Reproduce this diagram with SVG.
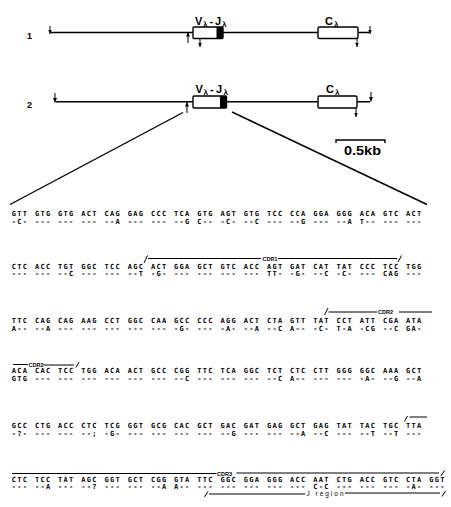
<svg xmlns="http://www.w3.org/2000/svg" width="451" height="507" viewBox="0 0 451 507">
<style>
.ln{stroke:#000;stroke-width:1.4;fill:none}
.thin{stroke:#000;stroke-width:1;fill:none}
.box{fill:#fff;stroke:#000;stroke-width:1.4}
.blk{fill:#000}
.lbl{font-family:"Liberation Sans",Arial,sans-serif;font-weight:bold;fill:#000}
.seq{font-family:"DejaVu Sans Mono","Liberation Mono",monospace;font-weight:bold;font-size:7px;letter-spacing:1.3px;fill:#000}
.cdr{font-family:"Liberation Sans",Arial,sans-serif;font-weight:bold;font-size:5.5px;fill:#000}
.jr{font-family:"Liberation Sans",Arial,sans-serif;font-size:6.5px;fill:#000}
</style>
<defs>
<marker id="ah" markerUnits="userSpaceOnUse" markerWidth="5" markerHeight="5" refX="4.5" refY="2.5" orient="auto">
<path d="M0,0.5 L4.5,2.5 L0,4.5 z" fill="#000"/>
</marker>
</defs>
<rect width="451" height="507" fill="#fff"/>

<g id="map1">
<text class="lbl" x="27" y="38.5" font-size="9">1</text>
<line class="ln" x1="51" y1="32.5" x2="369" y2="32.5"/>
<line class="thin" x1="50" y1="26" x2="50" y2="34" marker-end="url(#ah)"/>
<line class="thin" x1="370" y1="26" x2="370" y2="34" marker-end="url(#ah)"/>
<rect class="box" x="193" y="27" width="30" height="11.5" rx="1"/>
<rect class="blk" x="216.5" y="27" width="6.5" height="11.5"/>
<rect class="box" x="318" y="27" width="40" height="11.5" rx="1.5"/>
<line class="thin" x1="188" y1="43" x2="188" y2="32" marker-end="url(#ah)"/>
<line class="thin" x1="200" y1="38" x2="200" y2="47" marker-end="url(#ah)"/>
<line class="thin" x1="357" y1="38" x2="357" y2="47" marker-end="url(#ah)"/>
<text class="lbl" font-size="11" y="25"><tspan x="195">V</tspan><tspan x="203" y="27" font-size="8">λ</tspan><tspan x="209.5" y="25">-</tspan><tspan x="215">J</tspan><tspan x="222" y="27" font-size="8">λ</tspan></text>
<text class="lbl" font-size="11" y="25"><tspan x="325">C</tspan><tspan x="334" y="27" font-size="8">λ</tspan></text>
</g>

<g id="map2">
<text class="lbl" x="27" y="107.5" font-size="9">2</text>
<line class="ln" x1="56" y1="101.7" x2="370" y2="101.7"/>
<line class="thin" x1="55" y1="93" x2="55" y2="102.5" marker-end="url(#ah)"/>
<line class="thin" x1="371" y1="92" x2="371" y2="101.5" marker-end="url(#ah)"/>
<rect class="box" x="193" y="96" width="33.5" height="12" rx="1"/>
<rect class="blk" x="220" y="96" width="6.5" height="12"/>
<rect class="box" x="318" y="96" width="39" height="12" rx="1.5"/>
<line class="thin" x1="187" y1="113" x2="187" y2="102" marker-end="url(#ah)"/>
<line class="thin" x1="356" y1="108" x2="356" y2="117" marker-end="url(#ah)"/>
<text class="lbl" font-size="11" y="93"><tspan x="195.5">V</tspan><tspan x="203.5" y="95" font-size="8">λ</tspan><tspan x="210" y="93">-</tspan><tspan x="216">J</tspan><tspan x="223.5" y="95" font-size="8">λ</tspan></text>
<text class="lbl" font-size="11" y="93"><tspan x="326">C</tspan><tspan x="335" y="95" font-size="8">λ</tspan></text>
</g>

<g id="scale">
<path class="ln" d="M336,143 V140 H385 V143"/>
<text class="lbl" x="344" y="155" font-size="12" textLength="37" lengthAdjust="spacingAndGlyphs">0.5kb</text>
</g>

<g id="connectors">
<line class="ln" x1="183" y1="112.5" x2="10" y2="204.5"/>
<line class="ln" x1="232" y1="112" x2="427" y2="204.5"/>
</g>

<g id="sequence">
<text class="seq" y="215.5"><tspan x="11.7">GTT</tspan><tspan x="34.9">GTG</tspan><tspan x="58.1">GTG</tspan><tspan x="81.3">ACT</tspan><tspan x="104.5">CAG</tspan><tspan x="127.7">GAG</tspan><tspan x="150.9">CCC</tspan><tspan x="174.1">TCA</tspan><tspan x="197.3">GTG</tspan><tspan x="220.5">AGT</tspan><tspan x="243.7">GTG</tspan><tspan x="266.9">TCC</tspan><tspan x="290.1">CCA</tspan><tspan x="313.3">GGA</tspan><tspan x="336.5">GGG</tspan><tspan x="359.7">ACA</tspan><tspan x="382.9">GTC</tspan><tspan x="406.1">ACT</tspan></text>
<text class="seq" y="223.5"><tspan x="11.7">-C-</tspan><tspan x="34.9">---</tspan><tspan x="58.1">---</tspan><tspan x="81.3">---</tspan><tspan x="104.5">--A</tspan><tspan x="127.7">---</tspan><tspan x="150.9">---</tspan><tspan x="174.1">--G</tspan><tspan x="197.3">C--</tspan><tspan x="220.5">-C-</tspan><tspan x="243.7">--C</tspan><tspan x="266.9">---</tspan><tspan x="290.1">--G</tspan><tspan x="313.3">---</tspan><tspan x="336.5">--A</tspan><tspan x="359.7">T--</tspan><tspan x="382.9">---</tspan><tspan x="406.1">---</tspan></text>

<path class="thin" d="M144,263 L147.5,255.5 M148,258.5 H261 M278,258.5 H397 M398,262 L401.5,255.5"/>
<text class="cdr" x="262.5" y="260.5">CDR1</text>
<text class="seq" y="268.5"><tspan x="11.7">CTC</tspan><tspan x="34.9">ACC</tspan><tspan x="58.1">TGT</tspan><tspan x="81.3">GGC</tspan><tspan x="104.5">TCC</tspan><tspan x="127.7">AGC</tspan><tspan x="150.9">ACT</tspan><tspan x="174.1">GGA</tspan><tspan x="197.3">GCT</tspan><tspan x="220.5">GTC</tspan><tspan x="243.7">ACC</tspan><tspan x="266.9">AGT</tspan><tspan x="290.1">GAT</tspan><tspan x="313.3">CAT</tspan><tspan x="336.5">TAT</tspan><tspan x="359.7">CCC</tspan><tspan x="382.9">TCC</tspan><tspan x="406.1">TGG</tspan></text>
<text class="seq" y="276"><tspan x="11.7">---</tspan><tspan x="34.9">---</tspan><tspan x="58.1">--C</tspan><tspan x="81.3">---</tspan><tspan x="104.5">---</tspan><tspan x="127.7">--T</tspan><tspan x="150.9">-G-</tspan><tspan x="174.1">---</tspan><tspan x="197.3">---</tspan><tspan x="220.5">---</tspan><tspan x="243.7">---</tspan><tspan x="266.9">TT-</tspan><tspan x="290.1">-G-</tspan><tspan x="313.3">--C</tspan><tspan x="336.5">-C-</tspan><tspan x="359.7">---</tspan><tspan x="382.9">CAG</tspan><tspan x="406.1">---</tspan></text>

<path class="thin" d="M324.5,315 L328,308 M328.5,312 H377 M399,312 H432"/>
<text class="cdr" x="378" y="314">CDR2</text>
<text class="seq" y="323"><tspan x="11.7">TTC</tspan><tspan x="34.9">CAG</tspan><tspan x="58.1">CAG</tspan><tspan x="81.3">AAG</tspan><tspan x="104.5">CCT</tspan><tspan x="127.7">GGC</tspan><tspan x="150.9">CAA</tspan><tspan x="174.1">GCC</tspan><tspan x="197.3">CCC</tspan><tspan x="220.5">AGG</tspan><tspan x="243.7">ACT</tspan><tspan x="266.9">CTA</tspan><tspan x="290.1">GTT</tspan><tspan x="313.3">TAT</tspan><tspan x="336.5">CCT</tspan><tspan x="359.7">ATT</tspan><tspan x="382.9">CGA</tspan><tspan x="406.1">ATA</tspan></text>
<text class="seq" y="330.5"><tspan x="11.7">A--</tspan><tspan x="34.9">--A</tspan><tspan x="58.1">---</tspan><tspan x="81.3">---</tspan><tspan x="104.5">---</tspan><tspan x="127.7">---</tspan><tspan x="150.9">---</tspan><tspan x="174.1">-G-</tspan><tspan x="197.3">---</tspan><tspan x="220.5">-A-</tspan><tspan x="243.7">--A</tspan><tspan x="266.9">--C</tspan><tspan x="290.1">A--</tspan><tspan x="313.3">-C-</tspan><tspan x="336.5">T-A</tspan><tspan x="359.7">-CG</tspan><tspan x="382.9">--C</tspan><tspan x="406.1">GA-</tspan></text>

<path class="thin" d="M13,364.5 H28 M43.5,365 H74 M76,367.5 L79,362"/>
<text class="cdr" x="28.5" y="366.5">CDR2</text>
<text class="seq" y="373"><tspan x="11.7">ACA</tspan><tspan x="34.9">CAC</tspan><tspan x="58.1">TCC</tspan><tspan x="81.3">TGG</tspan><tspan x="104.5">ACA</tspan><tspan x="127.7">ACT</tspan><tspan x="150.9">GCC</tspan><tspan x="174.1">CGG</tspan><tspan x="197.3">TTC</tspan><tspan x="220.5">TCA</tspan><tspan x="243.7">GGC</tspan><tspan x="266.9">TCT</tspan><tspan x="290.1">CTC</tspan><tspan x="313.3">CTT</tspan><tspan x="336.5">GGG</tspan><tspan x="359.7">GGC</tspan><tspan x="382.9">AAA</tspan><tspan x="406.1">GCT</tspan></text>
<text class="seq" y="380.5"><tspan x="11.7">GTG</tspan><tspan x="34.9">---</tspan><tspan x="58.1">---</tspan><tspan x="81.3">---</tspan><tspan x="104.5">---</tspan><tspan x="127.7">---</tspan><tspan x="150.9">---</tspan><tspan x="174.1">--C</tspan><tspan x="197.3">---</tspan><tspan x="220.5">---</tspan><tspan x="243.7">---</tspan><tspan x="266.9">--C</tspan><tspan x="290.1">A--</tspan><tspan x="313.3">---</tspan><tspan x="336.5">---</tspan><tspan x="359.7">-A-</tspan><tspan x="382.9">--G</tspan><tspan x="406.1">--A</tspan></text>

<path class="thin" d="M404.5,421.5 L407.5,416 M409.5,417 H427"/>
<text class="seq" y="428"><tspan x="11.7">GCC</tspan><tspan x="34.9">CTG</tspan><tspan x="58.1">ACC</tspan><tspan x="81.3">CTC</tspan><tspan x="104.5">TCG</tspan><tspan x="127.7">GGT</tspan><tspan x="150.9">GCG</tspan><tspan x="174.1">CAC</tspan><tspan x="197.3">GCT</tspan><tspan x="220.5">GAC</tspan><tspan x="243.7">GAT</tspan><tspan x="266.9">GAG</tspan><tspan x="290.1">GCT</tspan><tspan x="313.3">GAG</tspan><tspan x="336.5">TAT</tspan><tspan x="359.7">TAC</tspan><tspan x="382.9">TGC</tspan><tspan x="406.1">TTA</tspan></text>
<text class="seq" y="435.5"><tspan x="11.7">-?-</tspan><tspan x="34.9">---</tspan><tspan x="58.1">---</tspan><tspan x="81.3">--;</tspan><tspan x="104.5">-G-</tspan><tspan x="127.7">---</tspan><tspan x="150.9">---</tspan><tspan x="174.1">---</tspan><tspan x="197.3">---</tspan><tspan x="220.5">--G</tspan><tspan x="243.7">---</tspan><tspan x="266.9">---</tspan><tspan x="290.1">--A</tspan><tspan x="313.3">--C</tspan><tspan x="336.5">---</tspan><tspan x="359.7">--T</tspan><tspan x="382.9">--T</tspan><tspan x="406.1">---</tspan></text>

<path class="thin" d="M12,473.5 H216.5 M236.5,473 H439 M441,476 L444.5,470.5"/>
<text class="cdr" x="217" y="475.5">CDR3</text>
<text class="seq" y="482"><tspan x="11.7">CTC</tspan><tspan x="34.9">TCC</tspan><tspan x="58.1">TAT</tspan><tspan x="81.3">AGC</tspan><tspan x="104.5">GGT</tspan><tspan x="127.7">GCT</tspan><tspan x="150.9">CGG</tspan><tspan x="174.1">GTA</tspan><tspan x="197.3">TTC</tspan><tspan x="220.5">GGC</tspan><tspan x="243.7">GGA</tspan><tspan x="266.9">GGG</tspan><tspan x="290.1">ACC</tspan><tspan x="313.3">AAT</tspan><tspan x="336.5">CTG</tspan><tspan x="359.7">ACC</tspan><tspan x="382.9">GTC</tspan><tspan x="406.1">CTA</tspan><tspan x="429.3">GGT</tspan></text>
<text class="seq" y="489"><tspan x="11.7">---</tspan><tspan x="34.9">--A</tspan><tspan x="58.1">---</tspan><tspan x="81.3">--?</tspan><tspan x="104.5">---</tspan><tspan x="127.7">---</tspan><tspan x="150.9">--A</tspan><tspan x="174.1">A--</tspan><tspan x="197.3">---</tspan><tspan x="220.5">---</tspan><tspan x="243.7">---</tspan><tspan x="266.9">---</tspan><tspan x="290.1">---</tspan><tspan x="313.3">C-C</tspan><tspan x="336.5">---</tspan><tspan x="359.7">---</tspan><tspan x="382.9">---</tspan><tspan x="406.1">-A-</tspan><tspan x="429.3">---</tspan></text>

<path class="thin" d="M204.5,497 L208,491.5 M209,494 H305 M345,493 H440 M442,496.5 L445.5,491"/>
<text class="jr" x="306.5" y="496" textLength="37" lengthAdjust="spacing">J region</text>
</g>
</svg>
